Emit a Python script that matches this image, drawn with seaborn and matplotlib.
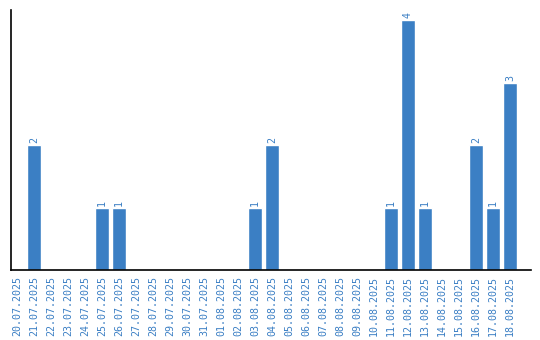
import matplotlib
matplotlib.use("Agg")
import matplotlib.pyplot as plt
import seaborn as sns
import pandas as pd

dates = ["20.07.2025", "21.07.2025", "22.07.2025", "23.07.2025", "24.07.2025",
         "25.07.2025", "26.07.2025", "27.07.2025", "28.07.2025", "29.07.2025",
         "30.07.2025", "31.07.2025", "01.08.2025", "02.08.2025", "03.08.2025",
         "04.08.2025", "05.08.2025", "06.08.2025", "07.08.2025", "08.08.2025",
         "09.08.2025", "10.08.2025", "11.08.2025", "12.08.2025", "13.08.2025",
         "14.08.2025", "15.08.2025", "16.08.2025", "17.08.2025", "18.08.2025"]
counts = [0, 2, 0, 0, 0, 1, 1, 0, 0, 0,
          0, 0, 0, 0, 1, 2, 0, 0, 0, 0,
          0, 0, 1, 4, 1, 0, 0, 2, 1, 3]

color = "#3b7fc4"
sns.set_theme(style="white")
plt.rcParams['font.family'] = ['DejaVu Sans Mono', 'DejaVu Sans']

df = pd.DataFrame({"date": dates, "count": counts})
fig = plt.figure(figsize=(5.4, 3.4), dpi=100)
ax = fig.add_axes([10.5/540, 70/340, 520.5/540, 260/340])
sns.barplot(data=df, x="date", y="count", color=color, saturation=1, width=0.82, ax=ax)

for i, v in enumerate(counts):
    if v > 0:
        ax.text(i, v + 0.03, str(v), rotation=90, ha="center", va="bottom",
                color=color, fontsize=7.2)

ax.set_ylim(0, 4.16)
ax.set_xlim(-0.382, 30.24)
ax.set_xlabel("")
ax.set_ylabel("")
ax.set_yticks([])
ax.tick_params(axis="x", labelrotation=90, labelsize=7.2, labelcolor=color, length=0, pad=4)
for s in ["top", "right"]:
    ax.spines[s].set_visible(False)
for s in ["left", "bottom"]:
    ax.spines[s].set_color("black")
    ax.spines[s].set_linewidth(1.2)

fig.savefig("out.png", dpi=100)
